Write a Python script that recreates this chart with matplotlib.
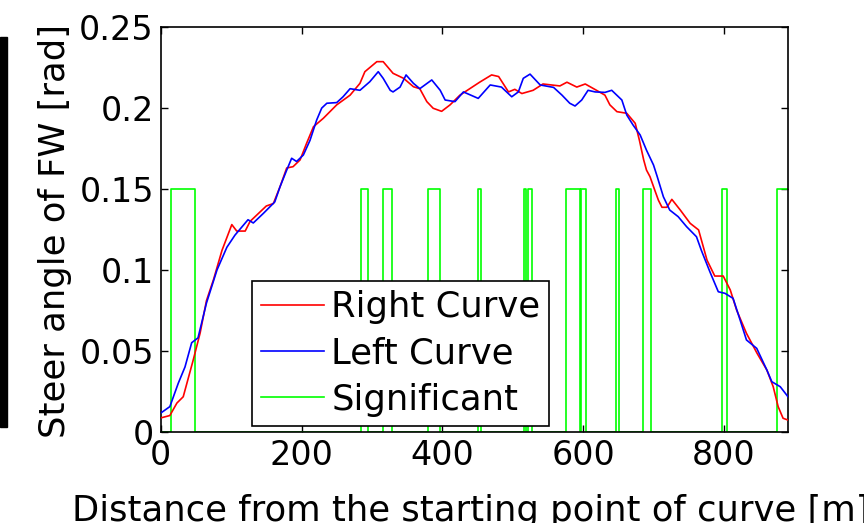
import matplotlib
matplotlib.use("Agg")
import matplotlib.pyplot as plt
from matplotlib.patches import Rectangle

plt.rcParams['font.family'] = ['DejaVu Sans']

# ---- data ----
right_x = [0, 13, 23, 32, 46, 56, 65, 75, 87, 101, 108, 120, 127, 150, 160, 169.5, 179, 188, 198,
           207, 217, 231, 250, 269, 283, 290, 307, 316, 330, 345, 359, 368, 378, 387, 399, 411, 425,
           439, 453, 470, 480, 494, 503, 513, 529, 543, 567, 577, 591, 603, 619, 631, 638, 648, 662,
           674, 680, 686, 690, 695, 702, 707, 712, 719, 726, 738, 752, 764, 776, 787, 799, 809, 818,
           832, 847, 861, 870, 877, 884, 891]
right_y = [0.0085, 0.010, 0.0177, 0.0216, 0.044, 0.061, 0.081, 0.094, 0.112, 0.128, 0.124, 0.124,
           0.130, 0.1395, 0.141, 0.1514, 0.163, 0.1638, 0.168, 0.178, 0.1885, 0.1937, 0.202, 0.208,
           0.2153, 0.2225, 0.2287, 0.2287, 0.2215, 0.2184, 0.2132, 0.212, 0.204, 0.1999, 0.198,
           0.202, 0.208, 0.212, 0.216, 0.2205, 0.2195, 0.210, 0.2116, 0.209, 0.211, 0.2149, 0.2137,
           0.216, 0.213, 0.2149, 0.211, 0.208, 0.202, 0.1978, 0.1968, 0.1906, 0.180, 0.168, 0.1617,
           0.1576, 0.149, 0.143, 0.1387, 0.1387, 0.1436, 0.137, 0.1288, 0.1247, 0.106, 0.0962,
           0.0962, 0.0876, 0.0752, 0.0608, 0.0485, 0.0381, 0.0278, 0.0155, 0.0083, 0.0072]

left_x = [0, 13, 25, 34.5, 44, 53, 65, 80, 94, 105.5, 124, 131.5, 146, 162, 169.5, 179, 186, 193,
          202.6, 212, 221.6, 228.7, 236, 250, 259, 269, 283, 297, 309, 316, 326, 330, 340, 348.5,
          359, 368, 385, 397, 404, 418, 430, 451, 468, 484, 498.6, 508, 515, 524.6, 539, 558, 570,
          581, 588.5, 598, 607, 617, 631, 640.6, 655, 662, 671, 681, 690, 700, 705, 714, 723, 735,
          747, 761, 768, 780, 792, 801.6, 813, 823, 832, 846.6, 861, 868, 880, 891]
left_y = [0.0115, 0.0155, 0.030, 0.040, 0.055, 0.058, 0.0795, 0.100, 0.114, 0.1215, 0.131, 0.129,
          0.135, 0.142, 0.1514, 0.1617, 0.169, 0.167, 0.171, 0.180, 0.1927, 0.200, 0.203, 0.2034,
          0.207, 0.212, 0.211, 0.2163, 0.2225, 0.2184, 0.211, 0.210, 0.213, 0.2205, 0.2153, 0.212,
          0.2174, 0.211, 0.205, 0.204, 0.210, 0.206, 0.2143, 0.213, 0.207, 0.210, 0.2184, 0.221,
          0.2143, 0.2128, 0.208, 0.203, 0.2013, 0.205, 0.211, 0.210, 0.2097, 0.211, 0.205, 0.1957,
          0.1895, 0.1834, 0.174, 0.1648, 0.158, 0.1452, 0.137, 0.1329, 0.1267, 0.1205, 0.112,
          0.0989, 0.0865, 0.0855, 0.0824, 0.069, 0.0567, 0.0515, 0.0381, 0.0309, 0.0278, 0.0216]

sig_start = [15, 285, 316, 379, 451, 516, 522, 575, 597, 647, 685, 797, 875]
sig_end   = [49, 294, 329, 397, 455, 519, 527, 595, 604, 651, 696, 804, 900]
sig_level = 0.15

x_ticks = [0, 200, 400, 600, 800]
y_ticks = [0, 0.05, 0.1, 0.15, 0.2, 0.25]
y_tick_labels = ['0', '0.05', '0.1', '0.15', '0.2', '0.25']

# build step trace for significance
sig_x = [0]
sig_y = [0]
for a, b in zip(sig_start, sig_end):
    sig_x += [a, a, b, b]
    sig_y += [0, sig_level, sig_level, 0]
sig_x.append(900)
sig_y.append(0)

fig = plt.figure(figsize=(8.64, 5.23), dpi=100)
ax = fig.add_axes([160.7 / 864, 1 - 431.7 / 523, (788 - 160.7) / 864, (431.7 - 27.2) / 523])

ax.plot(right_x, right_y, color=(1, 0, 0), lw=1.2, label='Right Curve', zorder=3)
ax.plot(left_x, left_y, color=(0, 0, 1), lw=1.2, label='Left Curve', zorder=3)
ax.plot(sig_x, sig_y, color=(0, 1, 0), lw=1.2, label='Significant', zorder=2)

ax.set_xlim(0, 891)
ax.set_ylim(0, 0.25)
ax.set_xticks(x_ticks)
ax.set_yticks(y_ticks)
ax.set_yticklabels(y_tick_labels)
ax.tick_params(direction='in', top=True, right=True, length=5, width=1.0,
               labelsize=24, pad=5)
for s in ax.spines.values():
    s.set_linewidth(1.2)

ax.set_xlabel('Distance from the starting point of curve [m]', fontsize=25.5)
ax.set_ylabel('Steer angle of FW [rad]', fontsize=25.5)
ax.xaxis.set_label_coords(0.4935, -0.153)
ax.yaxis.set_label_coords(-0.141, 0.496)

leg = ax.legend(loc='lower left', bbox_to_anchor=(0.145, 0.015), borderaxespad=0,
                fontsize=25.5, fancybox=False, framealpha=1, edgecolor='black',
                handlelength=1.8, borderpad=0.25, labelspacing=0.35, handletextpad=0.2)
leg.get_frame().set_linewidth(1.2)

fig.patches.append(Rectangle((0, 1 - 427 / 523), 7 / 864, (427 - 37) / 523,
                             transform=fig.transFigure, color='black', zorder=10))

fig.savefig('out.png', dpi=100)
